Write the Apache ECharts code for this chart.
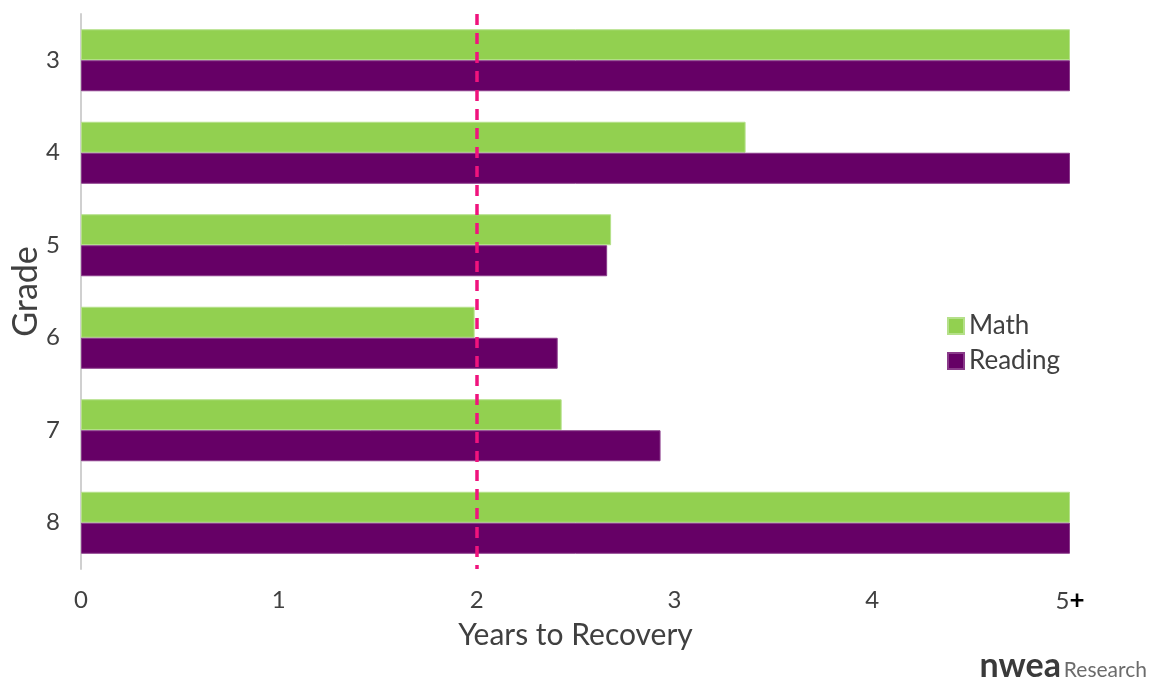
<!DOCTYPE html>
<html>
<head>
<meta charset="utf-8">
<script src="https://cdn.jsdelivr.net/npm/echarts@6/dist/echarts.min.js"></script>
<style>html,body{margin:0;padding:0;background:#fff}#c{width:1149px;height:679px}</style>
</head>
<body>
<div id="c"></div>
<script>
const grades = ['3', '4', '5', '6', '7', '8'];
const mathYears = [5, 3.36, 2.68, 1.99, 2.43, 5];
const readingYears = [5, 5, 2.66, 2.41, 2.93, 5];
const xTicks = [0, 1, 2, 3, 4, 5];
const targetYears = 2;

const chart = echarts.init(document.getElementById('c'));
const font = 'Lato, "Open Sans", sans-serif';
chart.setOption({
  animation: false,
  textStyle: { fontFamily: font },
  grid: { left: 81, right: 79, top: 14, bottom: 110, outerBoundsMode: 'none', containLabel: false },
  legend: {
    orient: 'vertical', left: 942, top: 308,
    itemWidth: 16, itemHeight: 16, itemGap: 9,
    icon: 'rect',
    textStyle: { fontSize: 26, lineHeight: 26, color: '#404040', fontFamily: font },
    data: ['Math', 'Reading']
  },
  xAxis: {
    type: 'value', min: 0, max: 5, interval: 1,
    axisLine: { show: false }, axisTick: { show: false }, splitLine: { show: false },
    axisLabel: {
      margin: 19, fontSize: 24, color: '#404040', fontFamily: font,
      formatter: v => v === 5 ? '{a|5}{b|+}' : String(v),
      rich: { a: { fontSize: 24, color: '#404040', fontFamily: font }, b: { fontSize: 26, color: '#000', fontWeight: 'bold', fontFamily: font } }
    },
    name: 'Years to Recovery', nameLocation: 'middle', nameGap: 51, nameMoveOverlap: false,
    nameTextStyle: { fontSize: 30, color: '#404040', fontFamily: font }
  },
  yAxis: {
    type: 'category', data: grades, inverse: true,
    axisLine: { show: true, lineStyle: { color: '#d0d0d0', width: 2 } },
    axisTick: { show: false },
    axisLabel: { margin: 21, fontSize: 24, color: '#404040', fontFamily: font },
    name: 'Grade', nameLocation: 'middle', nameGap: 38, nameRotate: 90, nameMoveOverlap: false,
    nameTextStyle: { fontSize: 34, color: '#404040', fontFamily: font }
  },
  series: [
    {
      name: 'Math', type: 'bar', data: mathYears, barWidth: 31, barGap: '0%',
      itemStyle: { color: '#92D050', borderColor: '#b5e08a', borderWidth: 1 },
      markLine: {
        silent: true, symbol: 'none', label: { show: false },
        lineStyle: { color: '#F0137D', width: 3.5, type: [11, 8], opacity: 1 },
        data: [{ xAxis: targetYears }]
      },
      z: 2
    },
    {
      name: 'Reading', type: 'bar', data: readingYears, barWidth: 31, barGap: '0%',
      itemStyle: { color: '#660066', borderColor: '#8a3b8a', borderWidth: 1 },
      z: 2
    }
  ],
  graphic: [
    { type: 'text', x: 1061, y: 683, style: { text: 'nwea', font: 'bold 34px Lato, sans-serif', fill: '#3a3a3a', align: 'right', verticalAlign: 'bottom' } },
    { type: 'text', x: 1147, y: 681, style: { text: 'Research', font: '21px Lato, sans-serif', fill: '#6b6b6b', align: 'right', verticalAlign: 'bottom' } }
  ]
});
</script>
</body>
</html>
